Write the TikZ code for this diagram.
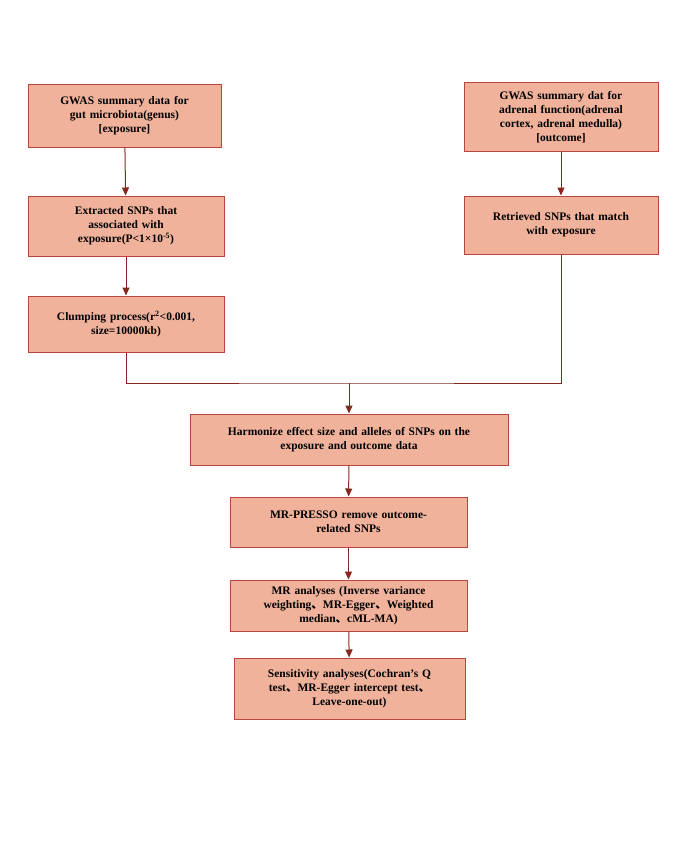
\documentclass[tikz,border=0pt]{standalone}
\usepackage{fontspec}
\setmainfont{Liberation Serif}
\newfontfamily\cjk{Noto Sans CJK SC}
\newcommand\dun{{\cjk 、}}
\usetikzlibrary{arrows.meta}
\begin{document}
\begin{tikzpicture}[x=1pt,y=-1pt,
  box/.style={draw={rgb,255:red,185;green,70;blue,60}, line width=1pt, fill={rgb,255:red,240;green,178;blue,155}, align=center, font=\bfseries\fontsize{11.5}{14}\selectfont, inner sep=1pt},
  arr/.style={draw={rgb,255:red,130;green,40;blue,30}, line width=1pt, -{Triangle[length=8pt,width=7pt]}},
  ln/.style={draw={rgb,255:red,130;green,40;blue,30}, line width=1pt}]
\useasboundingbox (0,0) rectangle (685,856);
\newcommand\bx[7]{\node[box, minimum width=#3-#2, minimum height=#5-#4, text width=#3-#2-6] (#1) at ({(#2+#3)/2},{(#4+#5)/2}) {#6};}
\bx{a}{28}{221}{85}{147}{GWAS summary data for\\gut microbiota(genus)\\{[exposure]}}{}
\bx{b}{28}{224}{196}{256}{Extracted SNPs that\\associated with\\exposure(P<1×10\textsuperscript{-5})}{}
\bx{c}{28}{224}{296}{352}{Clumping process(r\textsuperscript{2}<0.001,\\size=10000kb)}{}
\bx{d}{464}{658}{83}{151}{GWAS summary dat for\\adrenal function(adrenal\\cortex, adrenal medulla)\\{[outcome]}}{}
\bx{e}{464}{658}{196}{254}{Retrieved SNPs that match\\with exposure}{}
\bx{f}{190}{508}{414}{465}{Harmonize effect size and alleles of SNPs on the\\exposure and outcome data}{}
\bx{g}{230}{467}{497}{547}{MR-PRESSO remove outcome-\\related SNPs}{}
\bx{h}{230}{467}{580}{631}{MR analyses (Inverse variance\\weighting\dun MR-Egger\dun Weighted\\median\dun cML-MA)}{}
\bx{i}{234}{465}{658}{719}{Sensitivity analyses(Cochran's Q\\test\dun MR-Egger intercept test\dun\\Leave-one-out)}{}
\coordinate (j) at (349,383);
\draw[arr] (a) -- (b);
\draw[arr] (b) -- (c);
\draw[arr] (d) -- (e);
\draw[ln] (c.south) |- (j) -| (e.south);
\draw[arr] (j) -- (f);
\draw[arr] (f) -- (g);
\draw[arr] (g) -- (h);
\draw[arr] (h) -- (i);
\end{tikzpicture}
\end{document}
